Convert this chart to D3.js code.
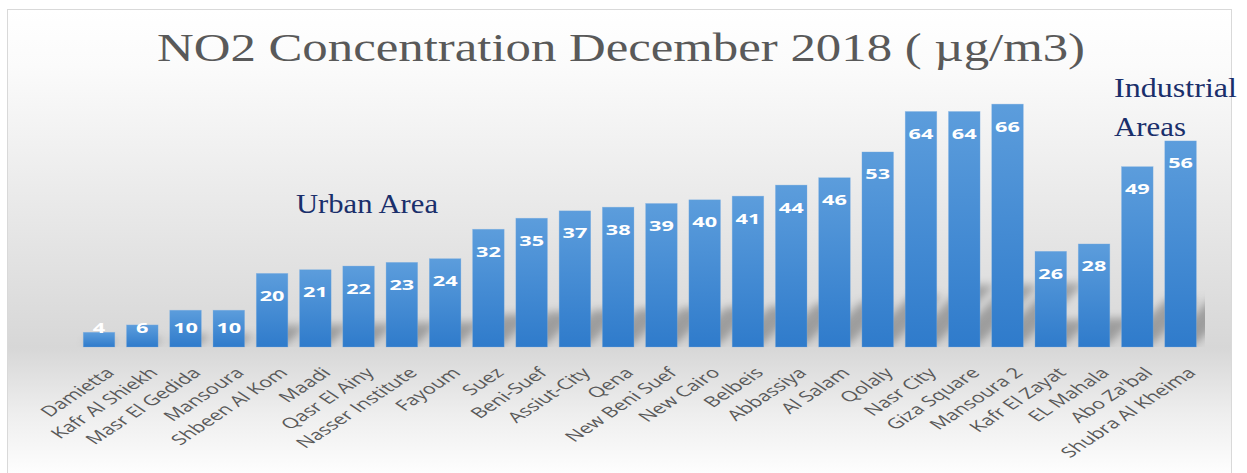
<!DOCTYPE html>
<html>
<head>
<meta charset="utf-8">
<script src="https://cdn.jsdelivr.net/npm/d3@7"></script>
<style>
  html, body { margin: 0; padding: 0; background: #ffffff; }
  svg { display: block; }
</style>
</head>
<body>
<svg id="chart" width="1247" height="473"></svg>
<script>
// Monitoring stations, in chart order
const stations = ["Damietta", "Kafr Al Shiekh", "Masr El Gedida", "Mansoura", "Shbeen Al Kom",
  "Maadi", "Qasr El Ainy", "Nasser Institute", "Fayoum", "Suez", "Beni-Suef", "Assiut-City",
  "Qena", "New Beni Suef", "New Cairo", "Belbeis", "Abbassiya", "Al Salam", "Qolaly",
  "Nasr City", "Giza Square", "Mansoura 2", "Kafr El Zayat", "EL Mahala", "Abo Za'bal",
  "Shubra Al Kheima"];

// Monthly mean NO2, µg/m3
const no2 = [4, 6, 10, 10, 20, 21, 22, 23, 24, 32, 35, 37, 38, 39, 40, 41, 44, 46, 53,
  64, 64, 66, 26, 28, 49, 56];

const titleText = "NO2 Concentration December 2018 ( µg/m3)";
const urbanNote = ["Urban Area"];
const industrialNote = ["Industrial", "Areas"];

const data = stations.map((s, i) => ({ station: s, value: no2[i] }));

const svg = d3.select("#chart");
const defs = svg.append("defs");

// chart area background: white -> grey floor -> white
const bg = defs.append("linearGradient").attr("id", "bgGrad")
  .attr("x1", 0).attr("y1", 0).attr("x2", 0).attr("y2", 1);
[[0, "#ffffff"], [0.12, "#fbfbfb"], [0.5, "#e4e4e4"], [0.72, "#d7d7d7"],
 [0.86, "#eeeeee"], [1, "#ffffff"]].forEach(([o, c]) =>
  bg.append("stop").attr("offset", o).attr("stop-color", c));

// bar fill: lighter at the top
const barGrad = defs.append("linearGradient").attr("id", "barGrad")
  .attr("x1", 0).attr("y1", 0).attr("x2", 0).attr("y2", 1);
barGrad.append("stop").attr("offset", 0).attr("stop-color", "#5c9ddc");
barGrad.append("stop").attr("offset", 1).attr("stop-color", "#2f7bcb");

const blur = defs.append("filter").attr("id", "shadowBlur")
  .attr("x", "-20%").attr("y", "-40%").attr("width", "140%").attr("height", "180%");
blur.append("feGaussianBlur").attr("stdDeviation", 4);

// chart frame
svg.append("rect")
  .attr("x", 7.5).attr("y", 9.5).attr("width", 1224).attr("height", 470)
  .attr("fill", "url(#bgGrad)")
  .attr("stroke", "#d9d9d9").attr("stroke-width", 1);

// scales
const x = d3.scaleBand()
  .domain(stations)
  .range([77.4, 1202.2])
  .paddingInner(0.27)
  .paddingOuter(0.135);

const y = d3.scaleLinear()
  .domain([0, 70])
  .range([347, 89.4]);

const base = y(0);

defs.append("clipPath").attr("id", "plotClip")
  .append("rect").attr("x", 74).attr("y", 60).attr("width", 1131).attr("height", base - 60);

// perspective shadows cast behind the bars
const k = 0.25, s = 0.25;
svg.append("g")
  .attr("clip-path", "url(#plotClip)")
  .append("g")
  .attr("filter", "url(#shadowBlur)")
  .selectAll("path")
  .data(data)
  .join("path")
  .attr("d", d => {
    const h = base - y(d.value);
    const x0 = x(d.station), x1 = x0 + x.bandwidth();
    const dx = s * h, dy = k * h;
    return `M${x0},${base - 3}L${x1},${base - 3}L${x1 + dx},${base - 3 - dy}L${x0 + dx},${base - 3 - dy}Z`;
  })
  .attr("fill", "#000000")
  .attr("fill-opacity", 0.28);

// bars
svg.append("g")
  .selectAll("rect")
  .data(data)
  .join("rect")
  .attr("x", d => x(d.station))
  .attr("y", d => y(d.value))
  .attr("width", x.bandwidth())
  .attr("height", d => base - y(d.value))
  .attr("fill", "url(#barGrad)")
  .attr("stroke", "#7fb2e3")
  .attr("stroke-opacity", 0.5)
  .attr("stroke-width", 0.6);

// value labels inside the bar ends
svg.append("g")
  .selectAll("text")
  .data(data)
  .join("text")
  .attr("transform", d => {
    const cx = x(d.station) + x.bandwidth() / 2;
    const by = Math.min(y(d.value) + 27.5, 332.5);
    return `translate(${cx},${by}) scale(1.45,1)`;
  })
  .attr("text-anchor", "middle")
  .attr("font-family", "'Open Sans', sans-serif")
  .attr("font-weight", 700)
  .attr("font-size", 15)
  .attr("fill", "#ffffff")
  .text(d => d.value);

// category axis labels
const xAxis = d3.axisBottom(x).tickSize(0).tickPadding(0);
const axisG = svg.append("g").attr("transform", `translate(0,${base})`).call(xAxis);
axisG.select(".domain").remove();
axisG.selectAll(".tick text")
  .attr("x", null).attr("y", null)
  .attr("transform", "translate(5,19) scale(1.5,1) rotate(-45)")
  .attr("dy", "0.75em")
  .attr("text-anchor", "end")
  .attr("font-family", "'Open Sans', sans-serif")
  .attr("font-size", 14.5)
  .attr("fill", "#595959");

// title
svg.append("text")
  .attr("x", 157).attr("y", 61)
  .attr("textLength", 928).attr("lengthAdjust", "spacingAndGlyphs")
  .attr("font-family", "'Liberation Serif', serif")
  .attr("font-size", 40)
  .attr("fill", "#595959")
  .text(titleText);

// area annotations
const noteStyle = sel => sel
  .attr("font-family", "'Liberation Serif', serif")
  .attr("font-size", 27)
  .attr("fill", "#1a2f6b")
  .attr("lengthAdjust", "spacingAndGlyphs");

svg.append("text").call(noteStyle)
  .attr("x", 296).attr("y", 213).attr("textLength", 142)
  .text(urbanNote[0]);

svg.append("text").call(noteStyle)
  .attr("x", 1114).attr("y", 97).attr("textLength", 123)
  .text(industrialNote[0]);
svg.append("text").call(noteStyle)
  .attr("x", 1114).attr("y", 136).attr("textLength", 72)
  .text(industrialNote[1]);
</script>
</body>
</html>
